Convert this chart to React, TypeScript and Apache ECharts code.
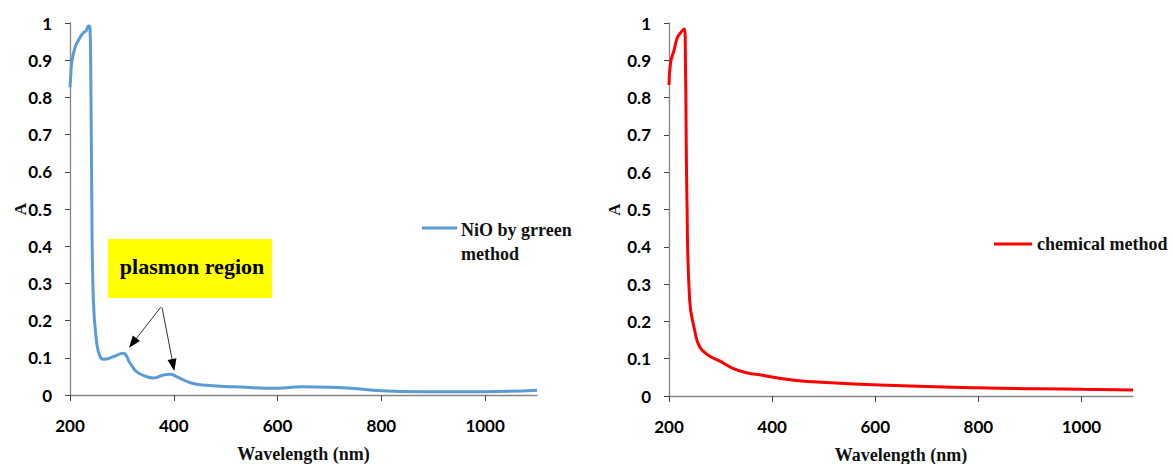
import React, { useEffect, useRef } from "react";
import * as echarts from "echarts";

// Wavelength (nm) and absorbance for NiO by green method
const greenWl = [200, 201.5, 203, 209.7, 219.4, 225.8, 231, 235.5, 238.5, 240, 242, 245, 251.6, 258, 264.5, 284, 302, 316, 329, 348, 361, 380, 393, 406, 432, 464, 516, 600, 645, 700, 742, 800, 871, 1000, 1100];
const greenA = [0.827, 0.86, 0.889, 0.934, 0.961, 0.974, 0.979, 0.992, 0.988, 0.879, 0.523, 0.255, 0.139, 0.103, 0.096, 0.103, 0.112, 0.085, 0.062, 0.049, 0.046, 0.054, 0.056, 0.049, 0.033, 0.026, 0.022, 0.018, 0.022, 0.021, 0.018, 0.0115, 0.009, 0.009, 0.013];

// Wavelength (nm) and absorbance for chemical method
const chemWl = [200, 203, 210, 216, 223, 230, 232, 234.8, 240, 249.7, 259.4, 275.5, 298, 324, 350, 382, 414, 453, 479, 608, 800, 1000, 1100];
const chemA = [0.834, 0.893, 0.928, 0.96, 0.975, 0.984, 0.884, 0.526, 0.258, 0.177, 0.132, 0.11, 0.094, 0.074, 0.0625, 0.0555, 0.0475, 0.041, 0.038, 0.0295, 0.022, 0.018, 0.016];

const xTicks = [200, 400, 600, 800, 1000];
const yTicks = [0, 0.1, 0.2, 0.3, 0.4, 0.5, 0.6, 0.7, 0.8, 0.9, 1];

const greenName = "NiO by grreen method";
const chemName = "chemical method";
const annotationText = "plasmon region";

const BLUE = "#5B9BD5";
const RED = "#FF0000";
const AXIS = "#868686";
const SANS = "Lato";
const SERIF = "Liberation Serif";

function arrowHead(x1: number, y1: number, x2: number, y2: number, len = 12, half = 4.5) {
  const dx = x2 - x1;
  const dy = y2 - y1;
  const d = Math.sqrt(dx * dx + dy * dy);
  const ux = dx / d;
  const uy = dy / d;
  const bx = x2 - ux * len;
  const by = y2 - uy * len;
  return [
    [x2, y2],
    [bx - uy * half, by + ux * half],
    [bx + uy * half, by - ux * half],
  ];
}

export default function App() {
  const ref = useRef<HTMLDivElement>(null);

  useEffect(() => {
    if (!ref.current) return;
    const chart = echarts.init(ref.current, null, { renderer: "svg" });

    const xAxisBase = (gridIndex: number) => ({
      type: "value" as const,
      gridIndex,
      min: 200,
      max: 1100,
      interval: 200,
      name: "Wavelength (nm)",
      nameLocation: "middle" as const,
      nameGap: 50,
      nameMoveOverlap: false,
      nameTextStyle: { fontFamily: SERIF, fontWeight: "bold", fontSize: 18, color: "#111" },
      axisLine: { show: true, onZero: false, lineStyle: { color: AXIS, width: 1.3 } },
      axisTick: { show: true, length: 6, customValues: xTicks, lineStyle: { color: "#444", width: 1 } },
      axisLabel: {
        customValues: xTicks,
        margin: 22,
        fontFamily: SANS,
        fontWeight: "bold",
        fontSize: 17,
        color: "#000",
        formatter: (v: number) => String(v),
      },
      splitLine: { show: false },
    });

    const yAxisBase = (gridIndex: number, gap: number, moveOverlap: boolean) => ({
      type: "value" as const,
      gridIndex,
      min: 0,
      max: 1,
      interval: 0.1,
      name: "A",
      nameLocation: "middle" as const,
      nameGap: gap,
      nameMoveOverlap: moveOverlap,
      nameTextStyle: { fontFamily: SERIF, fontWeight: "bold", fontSize: 17, color: "#111" },
      axisLine: { show: true, lineStyle: { color: AXIS, width: 1.3 } },
      axisTick: { show: true, length: 5, customValues: yTicks, lineStyle: { color: "#444", width: 1 } },
      axisLabel: {
        customValues: yTicks,
        margin: 18,
        fontFamily: SANS,
        fontWeight: "bold",
        fontSize: 17,
        color: "#000",
        formatter: (v: number) => String(Math.round(v * 10) / 10),
      },
      splitLine: { show: false },
    });

    const a1 = arrowHead(160.7, 307.3, 129, 347.7);
    const a2 = arrowHead(162, 307.3, 174.3, 371);

    chart.setOption({
      animation: false,
      backgroundColor: "#fff",
      grid: [
        { left: 70, top: 23, width: 467, height: 372, outerBoundsMode: "none", containLabel: false },
        { left: 669, top: 23, width: 464, height: 373, outerBoundsMode: "none", containLabel: false },
      ],
      xAxis: [xAxisBase(0), xAxisBase(1)],
      yAxis: [yAxisBase(0, 41, false), yAxisBase(1, 46, true)],
      legend: {
        data: [chemName],
        left: 989,
        top: 230,
        icon: "rect",
        itemWidth: 38,
        itemHeight: 3,
        itemGap: 8,
        textStyle: { fontFamily: SERIF, fontWeight: "bold", fontSize: 18, color: "#111" },
      },
      series: [
        {
          name: greenName,
          type: "line",
          xAxisIndex: 0,
          yAxisIndex: 0,
          data: greenWl.map((w, i) => [w, greenA[i]]),
          showSymbol: false,
          symbol: "none",
          smooth: 0.5,
          lineStyle: { color: BLUE, width: 3 },
          itemStyle: { color: BLUE },
        },
        {
          name: chemName,
          type: "line",
          xAxisIndex: 1,
          yAxisIndex: 1,
          data: chemWl.map((w, i) => [w, chemA[i]]),
          showSymbol: false,
          symbol: "none",
          smooth: 0.5,
          lineStyle: { color: RED, width: 3 },
          itemStyle: { color: RED },
        },
      ],
      graphic: [
        { type: "rect", shape: { x: 108, y: 239, width: 164, height: 59 }, style: { fill: "#FFFF00" } },
        {
          type: "text",
          x: 192,
          y: 266,
          style: {
            text: annotationText,
            fontFamily: SERIF,
            fontWeight: "bold",
            fontSize: 22,
            fill: "#000",
            textAlign: "center",
            textVerticalAlign: "middle",
          },
        },
        { type: "line", shape: { x1: 160.7, y1: 307.3, x2: 132, y2: 344 }, style: { stroke: "#333", lineWidth: 1 } },
        { type: "line", shape: { x1: 162, y1: 307.3, x2: 173.6, y2: 367 }, style: { stroke: "#333", lineWidth: 1 } },
        { type: "polygon", shape: { points: a1 }, style: { fill: "#000" } },
        { type: "polygon", shape: { points: a2 }, style: { fill: "#000" } },
        { type: "line", shape: { x1: 422, y1: 228, x2: 457, y2: 228 }, style: { stroke: BLUE, lineWidth: 3 } },
        {
          type: "text",
          x: 461,
          y: 229.5,
          style: {
            text: "NiO by grreen",
            fontFamily: SERIF,
            fontWeight: "bold",
            fontSize: 18,
            fill: "#111",
            textAlign: "left",
            textVerticalAlign: "middle",
          },
        },
        {
          type: "text",
          x: 461,
          y: 254,
          style: {
            text: "method",
            fontFamily: SERIF,
            fontWeight: "bold",
            fontSize: 18,
            fill: "#111",
            textAlign: "left",
            textVerticalAlign: "middle",
          },
        },
      ],
    });

    return () => chart.dispose();
  }, []);

  return <div ref={ref} style={{ width: 1173, height: 464, position: "absolute", left: 0, top: 0 }} />;
}
